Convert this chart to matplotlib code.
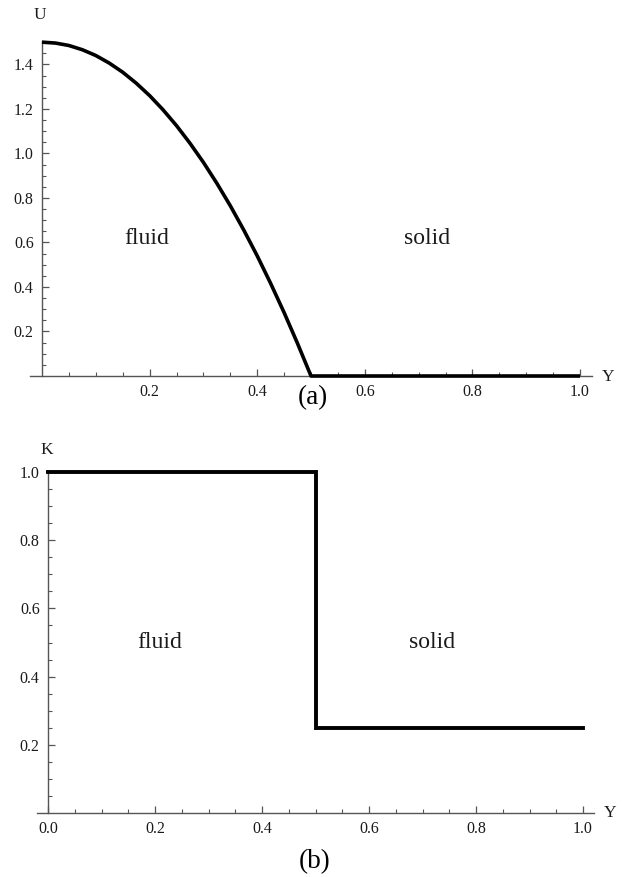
import matplotlib
matplotlib.use("Agg")
import matplotlib.pyplot as plt
import numpy as np

plt.rcParams['font.family'] = ['Liberation Serif', 'DejaVu Serif']
plt.rcParams['mathtext.fontset'] = 'stix'

# ---- data ----
y_top = [0.0, 0.025, 0.05, 0.075, 0.1, 0.125, 0.15, 0.175, 0.2, 0.225, 0.25,
         0.275, 0.3, 0.325, 0.35, 0.375, 0.4, 0.425, 0.45, 0.475, 0.5, 1.0]
u_top = [1.5, 1.496, 1.485, 1.466, 1.44, 1.406, 1.365, 1.316, 1.26, 1.196, 1.125,
         1.046, 0.96, 0.866, 0.765, 0.656, 0.54, 0.416, 0.285, 0.146, 0.0, 0.0]

y_bot = [0.0, 0.5, 0.5, 1.0]
k_bot = [1.0, 1.0, 0.25, 0.25]

top_xticks = [0.2, 0.4, 0.6, 0.8, 1.0]
top_yticks = [0.2, 0.4, 0.6, 0.8, 1.0, 1.2, 1.4]
bot_xticks = [0.0, 0.2, 0.4, 0.6, 0.8, 1.0]
bot_yticks = [0.2, 0.4, 0.6, 0.8, 1.0]

W, H = 622, 877
fig = plt.figure(figsize=(W / 100, H / 100), dpi=100)

AX_COL = '#555555'
TXT_COL = '#1a1a1a'


def px_axes(x0, x1, y_top_px, y_bot_px):
    return fig.add_axes([x0 / W, 1 - y_bot_px / H, (x1 - x0) / W, (y_bot_px - y_top_px) / H])


def style(ax, xmaj, ymaj, xminor, yminor):
    for s in ['top', 'right']:
        ax.spines[s].set_visible(False)
    ax.spines['left'].set_position(('data', 0))
    ax.spines['bottom'].set_position(('data', 0))
    for s in ['left', 'bottom']:
        ax.spines[s].set_color(AX_COL)
        ax.spines[s].set_linewidth(1.0)
    ax.set_xticks(xmaj)
    ax.set_yticks(ymaj)
    ax.set_xticks(xminor, minor=True)
    ax.set_yticks(yminor, minor=True)
    ax.set_xticklabels([f"{v:.1f}" for v in xmaj])
    ax.set_yticklabels([f"{v:.1f}" for v in ymaj])
    ax.tick_params(which='major', direction='in', length=5, width=0.9, color=AX_COL,
                   labelsize=11.5, labelcolor=TXT_COL, pad=6)
    ax.tick_params(which='minor', direction='in', length=3, width=0.8, color=AX_COL)
    ax.patch.set_alpha(0)


# ---- top panel ----
ax1 = px_axes(30, 592, 41.5, 376)
ax1.plot(y_top, u_top, color='black', lw=2.6, solid_capstyle='butt', zorder=5, clip_on=False)
ax1.set_xlim((30 - 42) / 538, (592 - 42) / 538)
ax1.set_ylim(0, 1.503)
style(ax1, top_xticks, top_yticks,
      [v / 20 for v in range(1, 21) if v % 4 != 0],
      [v / 20 for v in range(1, 31) if v % 4 != 0])
ax1.text(147 / W, 1 - 239 / H, 'fluid', transform=fig.transFigure, fontsize=17,
         ha='center', va='center', color=TXT_COL)
ax1.text(427 / W, 1 - 239 / H, 'solid', transform=fig.transFigure, fontsize=17,
         ha='center', va='center', color=TXT_COL)
fig.text(40 / W, 1 - 15 / H, 'U', fontsize=12.5, ha='center', va='center', color=TXT_COL)
fig.text(608 / W, 1 - 377 / H, 'Y', fontsize=12.5, ha='center', va='center', color=TXT_COL)
fig.text(313 / W, 1 - 398 / H, '(a)', fontsize=19.5, ha='center', va='center', color='black')

# ---- bottom panel ----
ax2 = px_axes(37, 594, 471, 813)
ax2.plot(y_bot, k_bot, color='black', lw=2.8, solid_joinstyle='miter', zorder=5, clip_on=False)
ax2.set_xlim((37 - 48) / 535, (594 - 48) / 535)
ax2.set_ylim(0, 1.003)
style(ax2, bot_xticks, bot_yticks,
      [v / 20 for v in range(1, 21) if v % 4 != 0],
      [v / 20 for v in range(1, 20) if v % 4 != 0])
ax2.text(160 / W, 1 - 642 / H, 'fluid', transform=fig.transFigure, fontsize=17,
         ha='center', va='center', color=TXT_COL)
ax2.text(432 / W, 1 - 642 / H, 'solid', transform=fig.transFigure, fontsize=17,
         ha='center', va='center', color=TXT_COL)
fig.text(47 / W, 1 - 450 / H, 'K', fontsize=12.5, ha='center', va='center', color=TXT_COL)
fig.text(610 / W, 1 - 813 / H, 'Y', fontsize=12.5, ha='center', va='center', color=TXT_COL)
fig.text(315 / W, 1 - 862 / H, '(b)', fontsize=19.5, ha='center', va='center', color='black')

fig.savefig('out.png', dpi=100)
